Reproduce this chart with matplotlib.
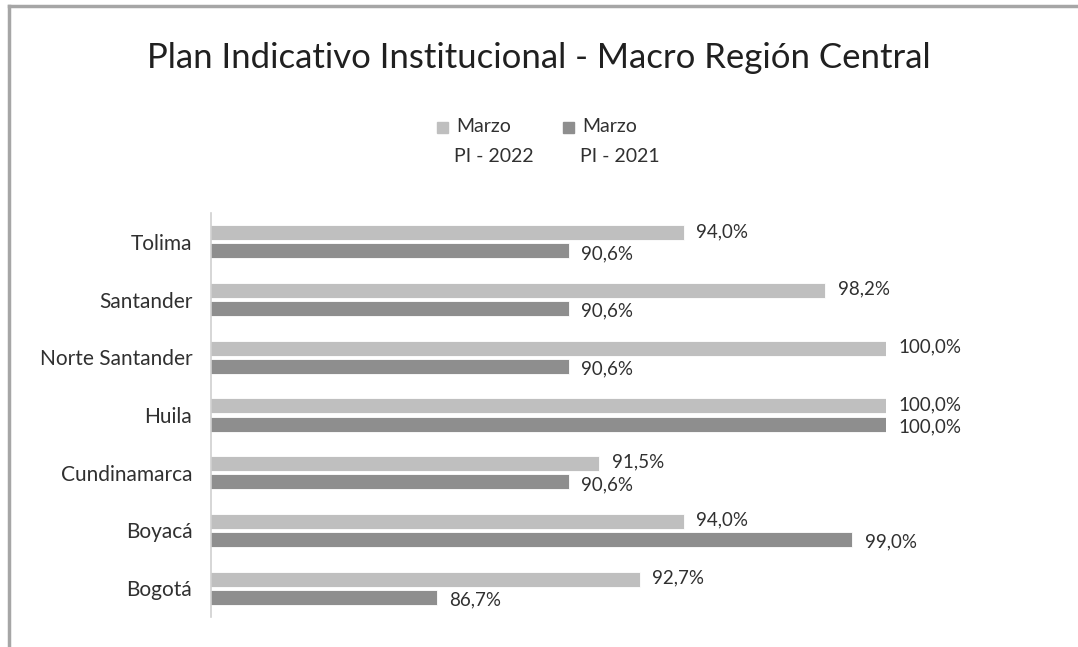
import numpy as np
import matplotlib.pyplot as plt
from matplotlib.lines import Line2D
from matplotlib.patches import Rectangle

plt.rcParams['font.family'] = ['Lato', 'DejaVu Sans']

# datos (de abajo hacia arriba)
regiones = ['Bogotá', 'Boyacá', 'Cundinamarca', 'Huila', 'Norte Santander', 'Santander', 'Tolima']
pi_2022 = [92.7, 94.0, 91.5, 100.0, 100.0, 98.2, 94.0]
pi_2021 = [86.7, 99.0, 90.6, 100.0, 90.6, 90.6, 90.6]
series = [('Marzo', 'PI - 2022'), ('Marzo', 'PI - 2021')]
colores = ['#bfbfbf', '#8e8e8e']
texto = '#303030'

W, H = 1078, 647
fig = plt.figure(figsize=(W / 100, H / 100), dpi=100)
ax = fig.add_axes([211 / W, 30 / H, (886 - 211) / W, 404 / H])

y = np.arange(len(regiones))
h = 0.26
off = 0.156
ax.barh(y + off, pi_2022, height=h, left=0, color=colores[0], edgecolor='white', linewidth=0.6)
ax.barh(y - off, pi_2021, height=h, left=0, color=colores[1], edgecolor='white', linewidth=0.6)

def etiqueta(v):
    return ('%.1f%%' % v).replace('.', ',')

for yy, v in zip(y + off, pi_2022):
    ax.annotate(etiqueta(v), (v, yy), xytext=(9, 1), textcoords='offset points',
                va='center', ha='left', fontsize=13.5, color=texto, annotation_clip=False)
for yy, v in zip(y - off, pi_2021):
    ax.annotate(etiqueta(v), (v, yy), xytext=(9, -2), textcoords='offset points',
                va='center', ha='left', fontsize=13.5, color=texto, annotation_clip=False)

ax.set_xlim(80, 100)
ax.set_ylim(-0.5, 6.5)
ax.set_yticks(y)
ax.set_yticklabels(regiones, fontsize=15, color=texto)
ax.tick_params(axis='y', length=0, pad=13.5)
ax.set_xticks([])
for s in ['top', 'right', 'bottom']:
    ax.spines[s].set_visible(False)
ax.spines['left'].set_color('#d0d0d0')
ax.spines['left'].set_linewidth(1.2)

fig.text(0.5, 1 - 58 / H, 'Plan Indicativo Institucional - Macro Región Central',
         ha='center', va='center', fontsize=25, color='#202020')

# leyenda manual (dos líneas por entrada)
for x0, (l1, l2), c in zip([437, 563], series, colores):
    fig.add_artist(Rectangle((x0 / W, 1 - 133 / H), 11 / W, 11 / H, color=c,
                             transform=fig.transFigure))
    fig.text((x0 + 19) / W, 1 - 127 / H, l1, ha='left', va='center', fontsize=14, color=texto)
    fig.text((x0 + 17) / W, 1 - 157 / H, l2, ha='left', va='center', fontsize=14, color=texto)

# borde del gráfico
fig.add_artist(Line2D([9 / W, 9 / W], [0, 1 - 6 / H], color='#a6a6a6', linewidth=2.5))
fig.add_artist(Line2D([9 / W, 1], [1 - 6 / H, 1 - 6 / H], color='#a6a6a6', linewidth=2.5))

fig.savefig('out.png', dpi=100)
